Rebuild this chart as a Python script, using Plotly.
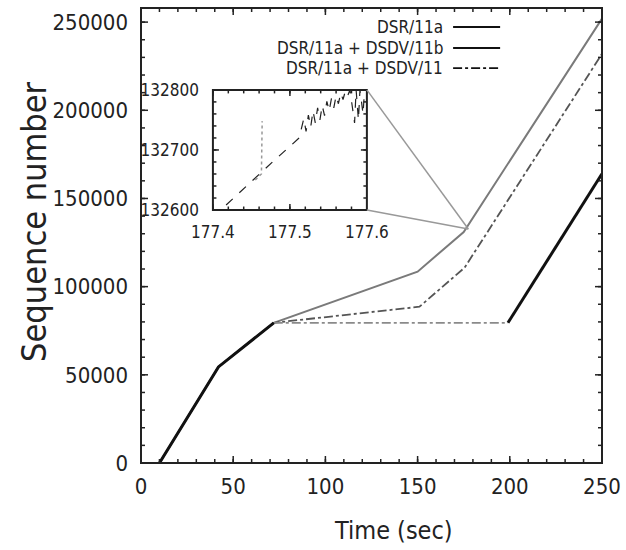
import numpy as np
import plotly.graph_objects as go

# Main curves: time (s) vs. sequence number
t_dsr = [10, 42, 72, 199, 250]
seq_dsr = [0, 54500, 79500, 79500, 164000]

t_dsr_b = [10, 42, 72, 150, 175, 250]
seq_dsr_b = [0, 54500, 79500, 108500, 131000, 252000]

t_dsr_g = [10, 42, 72, 151, 175.5, 250]
seq_dsr_g = [0, 54500, 79500, 88600, 110800, 232000]

# Zoomed detail around t = 177.5 s
zin_t_b = [177.400, 177.430, 177.460, 177.480, 177.500, 177.512, 177.518, 177.521,
           177.524, 177.527, 177.530, 177.533, 177.536, 177.539, 177.542, 177.545,
           177.548, 177.551, 177.554, 177.557, 177.560, 177.563, 177.566, 177.569,
           177.572, 177.575, 177.578, 177.584, 177.586, 177.589, 177.591, 177.595, 177.597]
zin_seq_b = [132588, 132624, 132659, 132683, 132706, 132720, 132752, 132731,
             132758, 132738, 132765, 132745, 132770, 132750, 132774, 132757,
             132781, 132765, 132786, 132770, 132790, 132777, 132795, 132784,
             132798, 132790, 132800, 132745, 132800, 132750, 132800, 132760, 132800]
zin_t_g = [177.455, 177.463, 177.464]
zin_seq_g = [132650, 132660, 132748]

legend_names = ["DSR/11a", "DSR/11a + DSDV/11b", "DSR/11a + DSDV/11"]

# axis ranges and tick positions
x_range = [0, 250]
y_range = [0, 258000]
x_major = [0, 50, 100, 150, 200, 250]
y_major = [0, 50000, 100000, 150000, 200000, 250000]
x_minor = np.arange(0, 251, 10)
y_minor = np.arange(0, 250001, 10000)

zx_range = [177.4, 177.6]
zy_range = [132600, 132800]
zx_major = [177.4, 177.5, 177.6]
zy_major = [132600, 132700, 132800]
zx_minor = np.round(np.arange(177.40, 177.601, 0.02), 2)
zy_minor = np.arange(132600, 132801, 20)
zoom_center = (177.5, 132700)

FONT = "DejaVu Sans Condensed, Liberation Sans, Arial, sans-serif"
INK = "#222222"
styles = [
    dict(color="#111111", width=3, dash="solid"),
    dict(color="#7a7a7a", width=2, dash="solid"),
    dict(color="#555555", width=1.8, dash="dashdot"),
]

fig = go.Figure()

fig.add_trace(go.Scatter(x=t_dsr_b, y=seq_dsr_b, mode="lines", line=styles[1],
                         showlegend=False))
fig.add_trace(go.Scatter(x=t_dsr_g, y=seq_dsr_g, mode="lines", line=styles[2],
                         showlegend=False))
# DSR/11a: rising parts solid, plateau drawn light
fig.add_trace(go.Scatter(x=t_dsr[2:4], y=seq_dsr[2:4], mode="lines",
                         line=dict(color="#8a8a8a", width=1.8, dash="dashdot"),
                         showlegend=False))
fig.add_trace(go.Scatter(x=t_dsr[:3], y=seq_dsr[:3], mode="lines", line=styles[0],
                         showlegend=False))
fig.add_trace(go.Scatter(x=t_dsr[3:], y=seq_dsr[3:], mode="lines", line=styles[0],
                         showlegend=False))

# inset traces
fig.add_trace(go.Scatter(x=zin_t_b, y=zin_seq_b, mode="lines",
                         line=dict(color="#222222", width=1.2, dash="dash"),
                         xaxis="x2", yaxis="y2", showlegend=False))
fig.add_trace(go.Scatter(x=zin_t_g, y=zin_seq_g, mode="lines",
                         line=dict(color="#999999", width=1.5, dash="dot"),
                         xaxis="x2", yaxis="y2", showlegend=False))


def axis_style(**extra):
    d = dict(showgrid=False, zeroline=False, showline=False, ticks="",
             automargin=False, tickformat="d")
    d.update(extra)
    return d


tickfont = dict(family=FONT, size=22, color=INK)
inset_font = dict(family=FONT, size=17, color=INK)

fig.update_layout(
    width=626, height=550,
    margin=dict(l=141, r=24, t=8, b=87),
    plot_bgcolor="white", paper_bgcolor="white",
    xaxis=axis_style(range=x_range, tickvals=x_major, tickfont=tickfont,
                     ticklabelstandoff=8),
    yaxis=axis_style(range=y_range, tickvals=y_major, tickfont=tickfont,
                     ticklabelstandoff=12),
    xaxis2=axis_style(domain=[0.156, 0.490], anchor="y2", range=zx_range,
                      tickvals=zx_major, tickfont=inset_font, tickformat=".1f",
                      ticklabelstandoff=10),
    yaxis2=axis_style(domain=[0.556, 0.820], anchor="x2", range=zy_range,
                      tickvals=zy_major, tickfont=inset_font, ticklabelstandoff=13),
)

# axis titles
fig.add_annotation(x=0.548, y=-0.149, xref="paper", yref="paper", text="Time (sec)",
                   showarrow=False, xanchor="center", yanchor="middle",
                   font=dict(family=FONT, size=25, color=INK))
fig.add_annotation(x=-0.232, y=0.530, xref="paper", yref="paper", text="Sequence number",
                   textangle=-90, showarrow=False, xanchor="center", yanchor="middle",
                   font=dict(family=FONT, size=34, color=INK))


def frame_and_ticks(xa, ya, xmaj, xmin, ymaj, ymin, major_len, minor_len, lw):
    """Box around a subplot plus inward ticks on all four sides."""
    line = dict(color=INK, width=1.5)
    for vals, length in ((xmin, minor_len), (xmaj, major_len)):
        for v in vals:
            for anchor, sign in ((0, 1), (1, -1)):
                fig.add_shape(type="line", xref=xa, yref=f"{ya} domain",
                              ysizemode="pixel", yanchor=anchor,
                              x0=v, x1=v, y0=0, y1=sign * length, line=line)
    for vals, length in ((ymin, minor_len), (ymaj, major_len)):
        for v in vals:
            for anchor, sign in ((0, 1), (1, -1)):
                fig.add_shape(type="line", yref=ya, xref=f"{xa} domain",
                              xsizemode="pixel", xanchor=anchor,
                              y0=v, y1=v, x0=0, x1=sign * length, line=line)
    fig.add_shape(type="rect", xref=f"{xa} domain", yref=f"{ya} domain",
                  x0=0, x1=1, y0=0, y1=1, line=dict(color=INK, width=lw))


frame_and_ticks("x", "y", x_major, x_minor, y_major, y_minor, 7, 4, 2)
frame_and_ticks("x2", "y2", zx_major, zx_minor, zy_major, zy_minor, 6, 3.5, 2)

# connector lines from the inset frame to the zoomed spot on the main axes
ix1 = 0.490
iy0, iy1 = 0.556, 0.820
px = (zoom_center[0] - x_range[0]) / (x_range[1] - x_range[0])
py = (zoom_center[1] - y_range[0]) / (y_range[1] - y_range[0])
for cy in (iy1, iy0):
    fig.add_shape(type="line", xref="paper", yref="paper", x0=ix1, y0=cy, x1=px, y1=py,
                  line=dict(color="#999999", width=1.5))

# legend: text on the left, line sample on the right
rows_y = [0.958, 0.912, 0.868]
for name, st, yy in zip(legend_names, styles, rows_y):
    fig.add_annotation(x=0.659, y=yy, xref="paper", yref="paper", text=name,
                       showarrow=False, xanchor="right", yanchor="middle",
                       font=dict(family=FONT, size=17, color=INK))
    fig.add_shape(type="line", xref="paper", yref="paper", x0=0.677, x1=0.779,
                  y0=yy, y1=yy,
                  line=dict(color="#111111", width=2 if st["dash"] == "solid" else 1.8,
                            dash=st["dash"]))

fig.write_html("out.html")
